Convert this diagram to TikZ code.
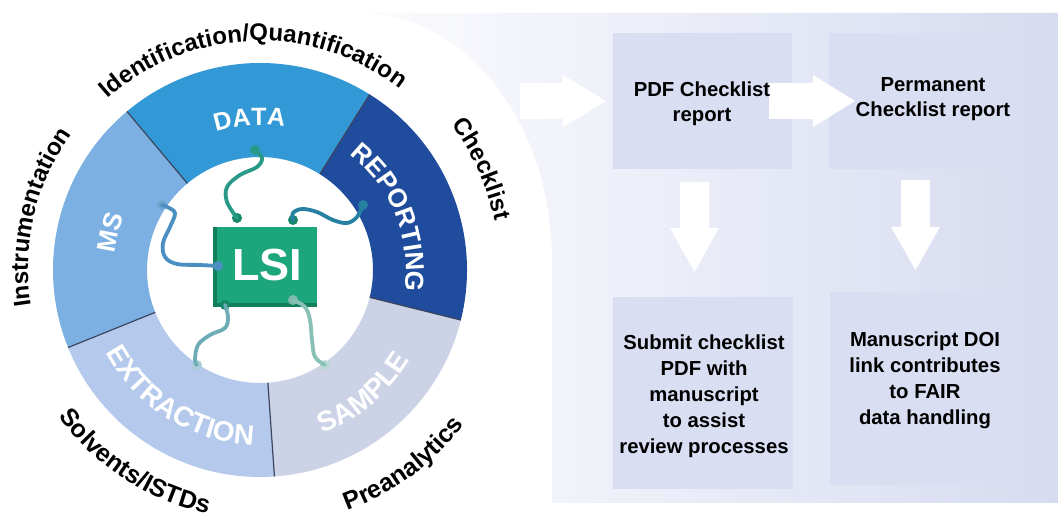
\documentclass[tikz,border=0pt]{standalone}
\usepackage{fontspec}
\setmainfont{Liberation Sans}
\usetikzlibrary{decorations.text}
\definecolor{cData}{HTML}{3399D6}
\definecolor{cMS}{HTML}{7DB0E2}
\definecolor{cExt}{HTML}{B4C9EB}
\definecolor{cSam}{HTML}{CDD3E7}
\definecolor{cRep}{HTML}{1F4C9C}
\definecolor{cChip}{HTML}{1DA57C}
\definecolor{cChipD}{HTML}{137E5E}
\definecolor{cBox}{HTML}{D9DEF2}
\definecolor{cPanL}{HTML}{FCFCFE}
\definecolor{cPanR}{HTML}{D6DBF0}
\definecolor{cSep}{HTML}{3B4560}
\definecolor{wData}{HTML}{2A9A88}
\definecolor{wRep}{HTML}{2580A2}
\definecolor{wMS}{HTML}{4B8FC2}
\definecolor{wExt}{HTML}{6EADB8}
\definecolor{wSam}{HTML}{88C0B6}
\definecolor{pDark}{HTML}{178769}
\newcommand\rfDat{\fontsize{25}{25}\selectfont\bfseries\color{white}}
\newcommand\rfSide{\fontsize{26}{26}\selectfont\bfseries\color{white}}
\newcommand\rfBot{\fontsize{28}{28}\selectfont\bfseries\color{white}}
\newcommand\ofTop{\fontsize{24}{24}\selectfont\bfseries}
\newcommand\ofBot{\fontsize{25}{25}\selectfont\bfseries}
\tikzset{
  arctext/.style={decorate, decoration={text along path, text align=center, text={#1}}},
  wire/.style={line width=3.8pt, line cap=round, line join=round},
  pin/.style={circle, inner sep=0pt, minimum size=10pt, fill=#1},
  box/.style={fill=cBox, draw=none, inner sep=0pt, anchor=south west},
  blockarrow/.style={fill=white, draw=none},
  boxtext/.style={align=center, inner sep=0pt, anchor=north, font=\fontsize{20.3}{25}\selectfont\bfseries},
  boxtextb/.style={align=center, inner sep=0pt, anchor=north, font=\fontsize{20.3}{25.8}\selectfont\bfseries},
  chipbox/.style={fill=cChip, inner sep=0pt, minimum width=100pt, minimum height=76pt, text=white, font=\fontsize{45}{45}\selectfont\bfseries},
}
\begin{document}
\begin{tikzpicture}[x=1pt,y=1pt]
\fill[white] (0,0) rectangle (1058,518);
\useasboundingbox (0,0) rectangle (1058,518);
% right panel
\shade[left color=cPanL, right color=cPanR] (552,15) -- (552,258) arc[start angle=0,end angle=90,x radius=192,y radius=247] -- (1058,505) -- (1058,15) -- cycle;
% boxes
\node[box, minimum width=179pt, minimum height=136pt] (b1) at (613,349) {};
\node[box, minimum width=183pt, minimum height=136pt] (b2) at (829,349) {};
\node[box, minimum width=180pt, minimum height=192pt] (b3) at (613,29) {};
\node[box, minimum width=182pt, minimum height=193pt] (b4) at (830,33) {};
% block arrows
\fill[blockarrow] (520,399) -- (563,399) -- (563,391) -- (606,417) -- (563,443) -- (563,435) -- (520,435) -- cycle;
\fill[blockarrow] (769,399) -- (813,399) -- (813,391) -- (855,417) -- (813,443) -- (813,435) -- (769,435) -- cycle;
\fill[blockarrow] (680,336) -- (709,336) -- (709,290) -- (719,290) -- (694.5,246) -- (670,290) -- (680,290) -- cycle;
\fill[blockarrow] (901,338) -- (930,338) -- (930,291) -- (940,291) -- (915.5,248) -- (891,291) -- (901,291) -- cycle;
% box texts
\node[boxtext] (t1) at (702,436) {PDF Checklist\\report};
\node[boxtext] (t2) at (933,441) {Permanent\\Checklist report};
\node[boxtextb] (t3) at (704,183) {Submit checklist\\PDF with\\manuscript\\to assist\\review processes};
\node[boxtextb] (t4) at (925,186) {Manuscript DOI\\link contributes\\to FAIR\\data handling};
% ring
\begin{scope}[shift={(260,248)}]
 \fill[cData] (58:207) arc[start angle=58,end angle=130,radius=207] -- (130:113) arc[start angle=130,end angle=58,radius=113] -- cycle;
 \fill[cMS] (130:207) arc[start angle=130,end angle=202,radius=207] -- (202:113) arc[start angle=202,end angle=130,radius=113] -- cycle;
 \fill[cExt] (202:207) arc[start angle=202,end angle=274,radius=207] -- (274:113) arc[start angle=274,end angle=202,radius=113] -- cycle;
 \fill[cSam] (274:207) arc[start angle=274,end angle=346,radius=207] -- (346:113) arc[start angle=346,end angle=274,radius=113] -- cycle;
 \fill[cRep] (346:207) arc[start angle=346,end angle=418,radius=207] -- (418:113) arc[start angle=418,end angle=346,radius=113] -- cycle;
 \foreach \a in {58,130,202,274,346} \draw[cSep, line width=1.2pt] (\a:113) -- (\a:207);
 % ring labels
 \path[arctext={|\rfDat|DATA}] (164:145) arc[start angle=164,end angle=24,radius=145];
 \path[arctext={|\rfSide|MS}] (236:146) arc[start angle=236,end angle=96,radius=146];
 \path[arctext={|\rfSide|REPORTING}] (92:146) arc[start angle=92,end angle=-48,radius=146];
 \path[arctext={|\rfBot|EXTRACTION}] (168:175) arc[start angle=168,end angle=308,radius=175];
 \path[arctext={|\rfBot|SAMPLE}] (240:175) arc[start angle=240,end angle=380,radius=175];
 % outer labels
 \path[arctext={|\ofTop|Identification/Quantification}] (162:229) arc[start angle=162,end angle=22,radius=229];
 \path[arctext={|\ofTop|Instrumentation}] (236.5:232) arc[start angle=236.5,end angle=96.5,radius=232];
 \path[arctext={|\ofTop|Checklist}] (94.5:240) arc[start angle=94.5,end angle=-45.5,radius=240];
 \path[arctext={|\ofBot|Solvents/ISTDs}] (167:249) arc[start angle=167,end angle=307,radius=249];
 \path[arctext={|\ofBot|Preanalytics}] (236.5:256) arc[start angle=236.5,end angle=376.5,radius=256];
\end{scope}
% chip
\fill[cChipD] (213,211) rectangle (317,291);
\node[chipbox] (chip) at (267,253) {LSI};
% pins
\node[pin=pDark] (pA1) at (237,300) {};
\node[pin=wData] (pA2) at (255,368) {};
\node[pin=pDark] (pR1) at (293,298) {};
\node[pin=wRep] (pR2) at (363,313) {};
\node[pin=wMS] (pM1) at (218,252) {};
\node[pin=wMS!80!white] (pM2) at (162,313) {};
\node[pin=pDark] (pE1) at (225,213) {};
\node[pin=wExt!60!white] (pE2) at (197,153) {};
\node[pin=wSam!90!pDark] (pS1) at (293,218) {};
\node[pin=wSam!60!white] (pS2) at (325,153) {};
% wires
\draw[wire, wData] plot[smooth, tension=0.6] coordinates {(pA1) (227,316) (227,331) (240,343) (257,351) (262,360) (pA2)};
\draw[wire, wRep] plot[smooth, tension=0.6] coordinates {(pR1) (293,305) (302,309) (317,306) (333,298) (347,295) (357,301) (pR2)};
\draw[wire, wMS] plot[smooth, tension=0.6] coordinates {(pM1) (200,253) (177,254) (165,261) (163,275) (170,291) (175,305) (167,311) (pM2)};
\draw[wire, wExt] plot[smooth, tension=0.6] coordinates {(pE1) (228,201) (225,190) (210,183) (198,173) (195,158) (pE2)};
\draw[wire, wSam] plot[smooth, tension=0.6] coordinates {(pS1) (305,211) (310,198) (312,178) (315,161) (pS2)};
\end{tikzpicture}
\end{document}
